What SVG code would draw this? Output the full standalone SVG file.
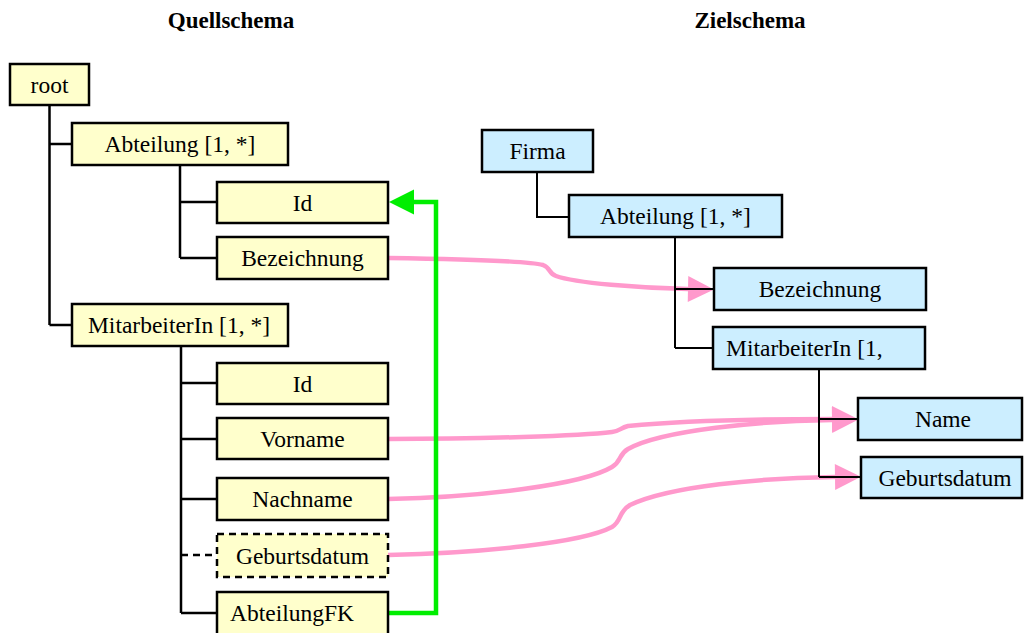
<svg xmlns="http://www.w3.org/2000/svg" width="1024" height="633" viewBox="0 0 1024 633">
<defs>
<style>
text{font-family:"Liberation Serif","Times New Roman",serif;fill:#000}
.t{font-size:23.5px;text-anchor:middle}
.tl{font-size:23.5px;text-anchor:start}
.title{font-size:23px;font-weight:bold;text-anchor:middle}
.src{fill:#ffffcc;stroke:#000;stroke-width:2.5}
.dst{fill:#cceeff;stroke:#000;stroke-width:2.5}
.dash{stroke-dasharray:7 5}
.tree{fill:none;stroke:#000;stroke-width:2.5}
.tree2{fill:none;stroke:#000;stroke-width:2}
.map{fill:none;stroke:#ff99cc;stroke-width:4.5;marker-end:url(#pinkArrow)}
.fk{fill:none;stroke:#00ee00;stroke-width:4.5;marker-end:url(#greenArrow)}
</style>
<marker id="pinkArrow" markerUnits="userSpaceOnUse" markerWidth="26" markerHeight="27" refX="0" refY="13" orient="auto" overflow="visible">
<path d="M0,0 L26,13 L0,26 z" fill="#ff99cc"/>
</marker>
<marker id="greenArrow" markerUnits="userSpaceOnUse" markerWidth="26" markerHeight="26" refX="0" refY="12.5" orient="auto" overflow="visible">
<path d="M0,0 L25,12.5 L0,25 z" fill="#00ee00"/>
</marker>
</defs>
<rect width="1024" height="633" fill="#fff"/>
<text class="title" x="231" y="28">Quellschema</text>
<text class="title" x="750" y="28">Zielschema</text>

<g id="connectors">
<path class="map" d="M388,258 C460,259 528,261 543,265 C551,268 548,273 556,276 C575,283 640,288 688,289"/>
<path class="map" d="M388,439 C480,439 580,436 612,432 C620,431 620,428 628,426 C680,421 760,419 832,419"/>
<path class="map" d="M388,499 C480,497 582,485 612,467 C622,461 618,455 628,449 C662,430 760,421 832,420"/>
<path class="map" d="M388,555 C480,553 582,543 612,527 C622,521 618,512 630,505 C670,486 760,478 835,477"/>
<path class="fk" d="M388,613 H436 V202 H414"/>
<g id="tree-lines">
<path class="tree" d="M49.5,105 V325 M49.5,144 H72 M49.5,325 H72"/>
<path class="tree" d="M180,165 V258 M180,202 H217 M180,258 H217"/>
<path class="tree" d="M181,346 V613 M181,383 H217 M181,439 H217 M181,499 H217 M181,613 H217"/>
<path class="tree dash" d="M181,555 H217"/>
<path class="tree2" d="M537,172 V217 H569"/>
<path class="tree2" d="M675,237 V348 M675,289 H714 M675,348 H713"/>
<path class="tree2" d="M819,369 V477 M819,419 H858 M819,477 H861"/>
</g>
</g>

<g id="src-root"><rect class="src" x="10" y="64" width="79" height="41"/><text class="t" x="49.5" y="92.5">root</text></g>
<g id="src-abteilung"><rect class="src" x="72" y="123" width="216" height="42"/><text class="t" x="180" y="152">Abteilung [1, *]</text></g>
<g id="src-abteilung-id"><rect class="src" x="217" y="182" width="171" height="41"/><text class="t" x="302.5" y="210.5">Id</text></g>
<g id="src-abteilung-bezeichnung"><rect class="src" x="217" y="237" width="171" height="42"/><text class="t" x="302.5" y="266">Bezeichnung</text></g>
<g id="src-mitarbeiterin"><rect class="src" x="72" y="304" width="216" height="42"/><text class="t" x="179" y="333">MitarbeiterIn [1, *]</text></g>
<g id="src-mitarbeiterin-id"><rect class="src" x="217" y="363" width="171" height="41"/><text class="t" x="302.5" y="391.5">Id</text></g>
<g id="src-vorname"><rect class="src" x="217" y="418" width="171" height="41"/><text class="t" x="302.5" y="446.5">Vorname</text></g>
<g id="src-nachname"><rect class="src" x="217" y="478" width="171" height="42"/><text class="t" x="302.5" y="507">Nachname</text></g>
<g id="src-geburtsdatum"><rect class="src dash" x="217" y="534" width="171" height="43"/><text class="t" x="302.5" y="563.5">Geburtsdatum</text></g>
<g id="src-abteilungfk"><rect class="src" x="217" y="592" width="171" height="44"/><text class="tl" x="230" y="621">AbteilungFK</text></g>

<g id="dst-firma"><rect class="dst" x="482" y="130" width="111" height="42"/><text class="t" x="537.5" y="159">Firma</text></g>
<g id="dst-abteilung"><rect class="dst" x="569" y="195" width="213" height="42"/><text class="t" x="675.5" y="224">Abteilung [1, *]</text></g>
<g id="dst-bezeichnung"><rect class="dst" x="714" y="268" width="212" height="42"/><text class="t" x="820" y="297">Bezeichnung</text></g>
<g id="dst-mitarbeiterin"><rect class="dst" x="713" y="327" width="212" height="42"/><text class="tl" x="726" y="356">MitarbeiterIn [1,</text></g>
<g id="dst-name"><rect class="dst" x="858" y="398" width="164" height="42"/><text class="t" x="943" y="427">Name</text></g>
<g id="dst-geburtsdatum"><rect class="dst" x="861" y="457" width="161" height="41"/><text class="t" x="945" y="486">Geburtsdatum</text></g>
</svg>
